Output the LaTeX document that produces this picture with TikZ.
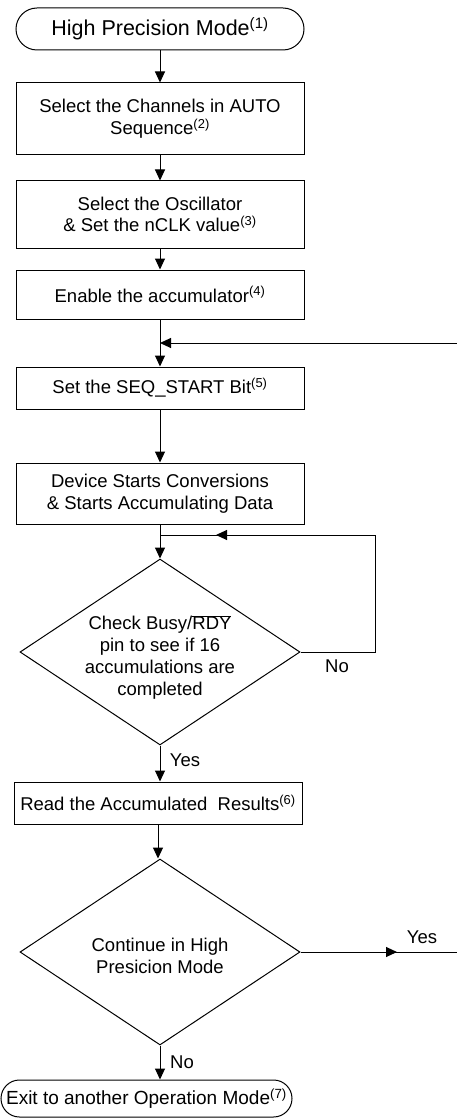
\documentclass[tikz,border=0pt]{standalone}
\usepackage{fontspec}
\setmainfont{Liberation Sans}
\usetikzlibrary{arrows.meta,shapes.geometric}

\begin{document}
\begin{tikzpicture}[x=1pt,y=-1pt,font=\fontsize{18.5}{21.7}\selectfont,line width=1pt,
  procbox/.style={draw,minimum width=288pt,align=center,inner sep=0pt},
  decision/.style={draw,diamond,minimum width=280pt,minimum height=186pt,inner sep=0pt},
  arr/.style={-{Triangle[width=10pt,length=11pt]}},
  lbl/.style={inner sep=0pt}]
\useasboundingbox (0,0) rectangle (457,1118);

% steps
\node[draw,rounded corners=21pt,minimum width=288pt,minimum height=42pt,inner sep=0pt,
  font=\fontsize{21.5}{25}\selectfont] (start) at (160,29) {High Precision Mode\textsuperscript{(1)}};
\node[procbox,minimum height=72pt] (chan) at (160,119) {Select the Channels in AUTO\\Sequence\textsuperscript{(2)}};
\node[procbox,minimum height=67pt] (osc) at (160,214.5) {Select the Oscillator\\\& Set the nCLK value\textsuperscript{(3)}};
\node[procbox,minimum height=49pt] (accu) at (160,294.5) {Enable the accumulator\textsuperscript{(4)}};
\node[procbox,minimum height=42pt] (seq) at (160,388) {Set the SEQ\_START Bit\textsuperscript{(5)}};
\node[procbox,minimum height=61pt] (conv) at (160,493.5) {Device Starts Conversions\\\& Starts Accumulating Data};
\node[decision] (busy) at (160,652) {};
\node[align=center] (busytxt) at (160,657) {Check Busy/$\overline{\mbox{RDY}}$\\pin to see if 16\\accumulations are\\completed};
\node[procbox,minimum height=42pt] (read) at (158,803) {Read the Accumulated\ \ Results\textsuperscript{(6)}};
\node[decision] (cont) at (160,952) {};
\node[align=center] (conttxt) at (160,956) {Continue in High\\Presicion Mode};
\node[draw,rounded corners=18.5pt,minimum width=291pt,minimum height=37pt,inner sep=0pt,
  font=\fontsize{19}{23}\selectfont] (exit) at (146.5,1098.5) {Exit to another Operation Mode\textsuperscript{(7)}};

% free ends and bends
\coordinate (join) at (160,343);
\coordinate (loopin) at (457,343);
\coordinate (loopc) at (375,535);
\coordinate (looptip) at (216,535);
\coordinate (loopend) at (160,535);
\coordinate (yestip) at (397,952);
\coordinate (yesend) at (457,952);

% connectors
\draw[arr] (start) -- (chan);
\draw[arr] (chan) -- (osc);
\draw[arr] (osc) -- (accu);
\draw[arr] (accu) -- (seq);
\draw[arr] (loopin) -- (join);
\draw[arr] (seq) -- (conv);
\draw[arr] (conv) -- (busy.north);
\draw (busy.east) -| (loopc) -- (loopend);
\draw[arr] (loopc) -- (looptip);
\draw[arr] (busy.south) -- (busy.south |- read.north);
\draw[arr] (read.south) -- (read.south |- cont.north);
\draw[arr] (cont.south) -- (cont.south |- exit.north);
\draw (cont.east) -- (yesend);
\draw[arr] (cont.east) -- (yestip);

% labels
\node[lbl] (no1) at (337,666) {No};
\node[lbl] (yes1) at (185,760) {Yes};
\node[lbl] (yes2) at (422,937) {Yes};
\node[lbl] (no2) at (182,1062) {No};
\end{tikzpicture}
\end{document}
